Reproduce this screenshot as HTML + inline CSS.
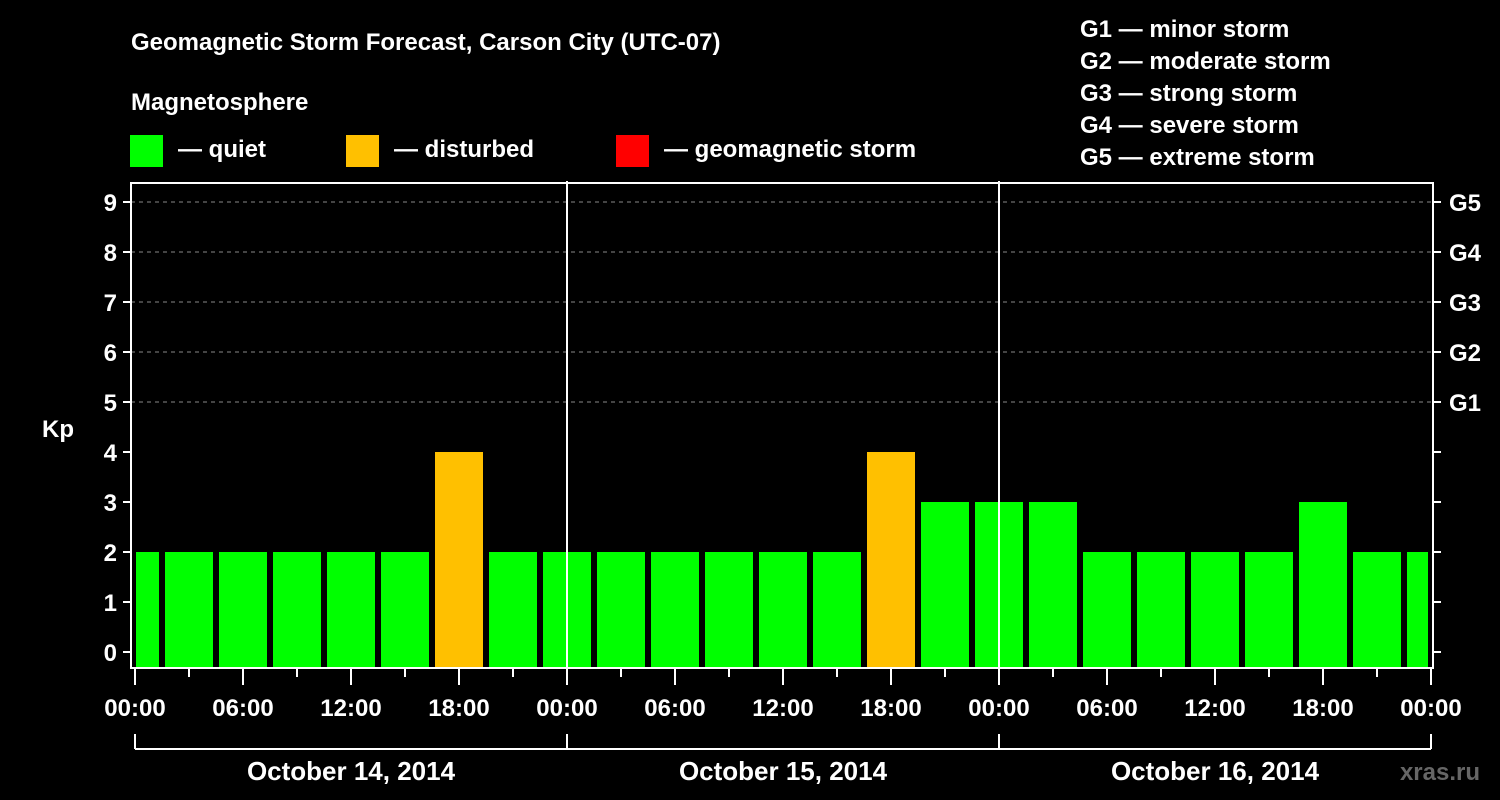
<!DOCTYPE html>
<html><head><meta charset="utf-8"><style>
html,body{margin:0;padding:0;background:#000;}
svg{display:block;font-family:"Liberation Sans",Arial,sans-serif;font-weight:bold;}
</style></head><body>
<svg id="chart" width="1500" height="800" viewBox="0 0 1500 800">
<rect x="0" y="0" width="1500" height="800" fill="#000"/>
<text x="131" y="50" font-size="24" fill="#fff">Geomagnetic Storm Forecast, Carson City (UTC-07)</text>
<text x="131" y="110" font-size="24" fill="#fff">Magnetosphere</text>
<g><rect x="130" y="135" width="33" height="32" fill="#00ff00"/><text x="178" y="157" font-size="24" fill="#fff">— quiet</text></g>
<g><rect x="346" y="135" width="33" height="32" fill="#ffc000"/><text x="394" y="157" font-size="24" fill="#fff">— disturbed</text></g>
<g><rect x="616" y="135" width="33" height="32" fill="#ff0000"/><text x="664" y="157" font-size="24" fill="#fff">— geomagnetic storm</text></g>
<g font-size="24" fill="#fff">
<text x="1080" y="37">G1 — minor storm</text>
<text x="1080" y="69">G2 — moderate storm</text>
<text x="1080" y="101">G3 — strong storm</text>
<text x="1080" y="133">G4 — severe storm</text>
<text x="1080" y="165">G5 — extreme storm</text>
</g>
<text x="42" y="437" font-size="24" fill="#fff">Kp</text>
<text x="1480" y="780" font-size="24" fill="#666" text-anchor="end">xras.ru</text>
<defs><clipPath id="pc"><rect x="136" y="183" width="1292" height="485"/></clipPath></defs>
<g id="grid"></g>
<g id="bars" clip-path="url(#pc)"></g>
<g id="axes"></g>
</svg>
<script>
const barHours = [-1.5,1.5,4.5,7.5,10.5,13.5,16.5,19.5,22.5,25.5,28.5,31.5,34.5,37.5,40.5,43.5,46.5,49.5,52.5,55.5,58.5,61.5,64.5,67.5,70.5];
const kpValues = [2,2,2,2,2,2,4,2,2,2,2,2,2,2,4,3,3,3,2,2,2,2,3,2,2];
const yTicks = [0,1,2,3,4,5,6,7,8,9];
const gLabels = ["G1","G2","G3","G4","G5"];
const gLevels = [5,6,7,8,9];
const xTickLabels = ["00:00","06:00","12:00","18:00","00:00","06:00","12:00","18:00","00:00","06:00","12:00","18:00","00:00"];
const dayLabels = ["October 14, 2014","October 15, 2014","October 16, 2014"];

const NS="http://www.w3.org/2000/svg";
const X0=135, PXH=18, Y0=652, PXK=50;
const xs = h => X0 + h*PXH;
const ys = k => Y0 - k*PXK;
function mk(tag, attrs, parent, txt){const e=document.createElementNS(NS,tag);for(const k in attrs)e.setAttribute(k,attrs[k]);if(txt!=null)e.textContent=txt;parent.appendChild(e);return e;}
const grid=document.getElementById('grid'), bars=document.getElementById('bars'), axes=document.getElementById('axes');
function color(k){return k>=5?'#ff0000':(k>=4?'#ffc000':'#00ff00');}

gLevels.forEach((g,i)=>{
  const l=mk('line',{x1:131,x2:1433,y1:ys(g),y2:ys(g),stroke:'#888','stroke-width':1,'stroke-dasharray':'4,4'},grid);
  
  
});
barHours.forEach((h,i)=>{
  const k=kpValues[i];
  const r=mk('rect',{x:xs(h)+3,y:ys(k),width:48,height:668-ys(k),fill:color(k)},bars);
  
  
});
// day separators
[24,48].forEach(h=>{
  const l=mk('line',{x1:xs(h),x2:xs(h),y1:181,y2:668,stroke:'#fff','stroke-width':2},axes);
  
  
});
// frame
const fr=mk('rect',{x:131,y:183,width:1302,height:485,fill:'none',stroke:'#fff','stroke-width':2},axes);


yTicks.forEach(k=>{
  mk('line',{x1:123,x2:131,y1:ys(k),y2:ys(k),stroke:'#fff','stroke-width':2},axes);
  mk('line',{x1:1433,x2:1441,y1:ys(k),y2:ys(k),stroke:'#fff','stroke-width':2},axes);
  const t=mk('text',{x:117,y:ys(k)+9,'font-size':24,fill:'#fff','text-anchor':'end'},axes,String(k));
  
  
});
gLevels.forEach((g,i)=>{
  const t=mk('text',{x:1449,y:ys(g)+9,'font-size':24,fill:'#fff'},axes,gLabels[i]);
  
  
});
for(let h=0;h<=72;h+=3){
  const major=h%6===0;
  mk('line',{x1:xs(h),x2:xs(h),y1:669,y2:major?685:677,stroke:'#fff','stroke-width':2},axes);
}
xTickLabels.forEach((s,i)=>{
  const t=mk('text',{x:xs(i*6),y:716,'font-size':24,fill:'#fff','text-anchor':'middle'},axes,s);
  
  
});
mk('line',{x1:xs(0),x2:xs(72),y1:749,y2:749,stroke:'#fff','stroke-width':2},axes);
[0,24,48,72].forEach(h=>mk('line',{x1:xs(h),x2:xs(h),y1:734,y2:749,stroke:'#fff','stroke-width':2},axes));
dayLabels.forEach((s,i)=>{
  const t=mk('text',{x:xs(i*24+12),y:780,'font-size':26,fill:'#fff','text-anchor':'middle'},axes,s);
  
  
});
</script>
</body></html>
